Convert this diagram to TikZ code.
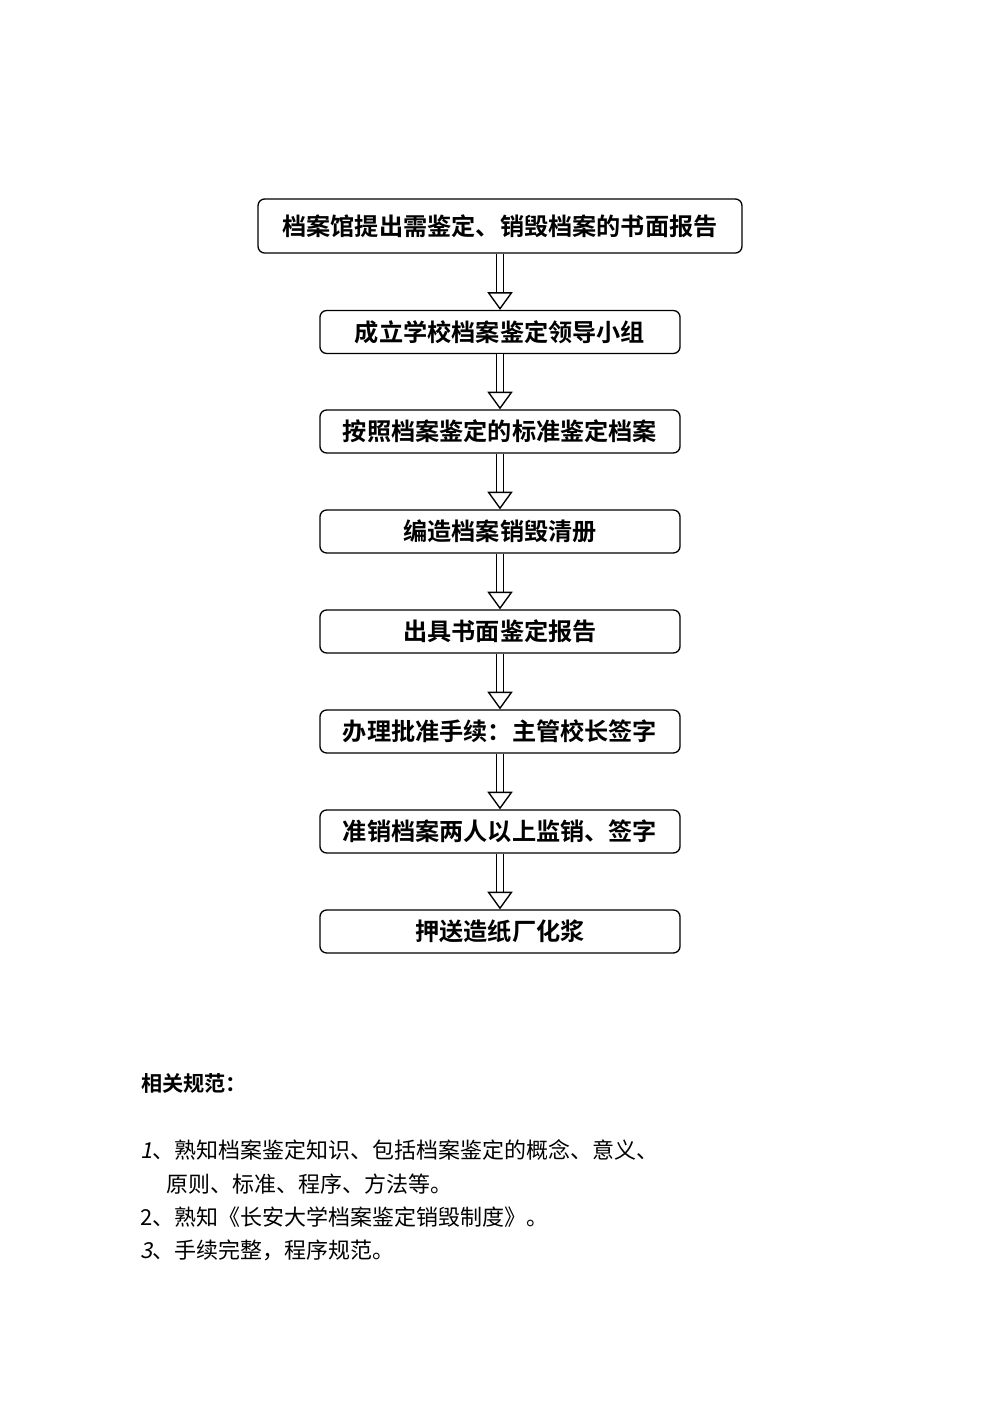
\documentclass[tikz,border=0pt]{standalone}
\usepackage{fontspec}
\usetikzlibrary{arrows.meta,positioning}
\newfontfamily\cjk{Noto Sans CJK SC}
\newfontfamily\cjkb{Noto Sans CJK SC Bold}
\newfontfamily\cjkit[FakeSlant=0.2]{Noto Sans CJK SC}

\begin{document}
\begin{tikzpicture}[x=0.5957pt,y=-0.5957pt,
    stepbox/.style={draw,line width=0.8pt,rounded corners=4pt,minimum width=214.5pt,minimum height=25.6pt,inner sep=0pt,font=\cjkb\fontsize{14.4}{16}\selectfont},
    flow/.style={double,double distance=3.2pt,line width=0.8pt,-{Triangle[open,length=10.5pt,width=15pt,line width=0.8pt]}},
    note/.style={anchor=west,inner sep=0pt,font=\cjk\fontsize{13.1}{15}\selectfont}]
    \useasboundingbox (0,0) rectangle (999,1414);
    %boxes
    \node[stepbox,minimum width=288.3pt,minimum height=32.2pt] (r) at (500,226) {档案馆提出需鉴定、销毁档案的书面报告};
    \node[stepbox] (g) at (500,332) {成立学校档案鉴定领导小组};
    \node[stepbox] (s) at (500,431.5) {按照档案鉴定的标准鉴定档案};
    \node[stepbox] (l) at (500,531.5) {编造档案销毁清册};
    \node[stepbox] (w) at (500,631.5) {出具书面鉴定报告};
    \node[stepbox] (p) at (500,731.5) {办理批准手续：主管校长签字};
    \node[stepbox] (m) at (500,831.5) {准销档案两人以上监销、签字};
    \node[stepbox] (d) at (500,931.5) {押送造纸厂化浆};
    %edges
    \foreach \a/\b in {r/g,g/s,s/l,l/w,w/p,p/m,m/d}
      \draw[flow] (\a.south) -- (\b.north);
    %notes
    \node[note,font=\cjkb\fontsize{12.6}{15}\selectfont] (h) at (141,1083) {相关规范：};
    \node[note] (n1) at (140,1150) {{\cjkit 1}、熟知档案鉴定知识、包括档案鉴定的概念、意义、};
    \node[note] (n1b) at (166,1184) {原则、标准、程序、方法等。};
    \node[note] (n2) at (140,1217) {2、熟知《长安大学档案鉴定销毁制度》。};
    \node[note] (n3) at (140,1250) {{\cjkit 3}、手续完整，程序规范。};
\end{tikzpicture}
\end{document}
